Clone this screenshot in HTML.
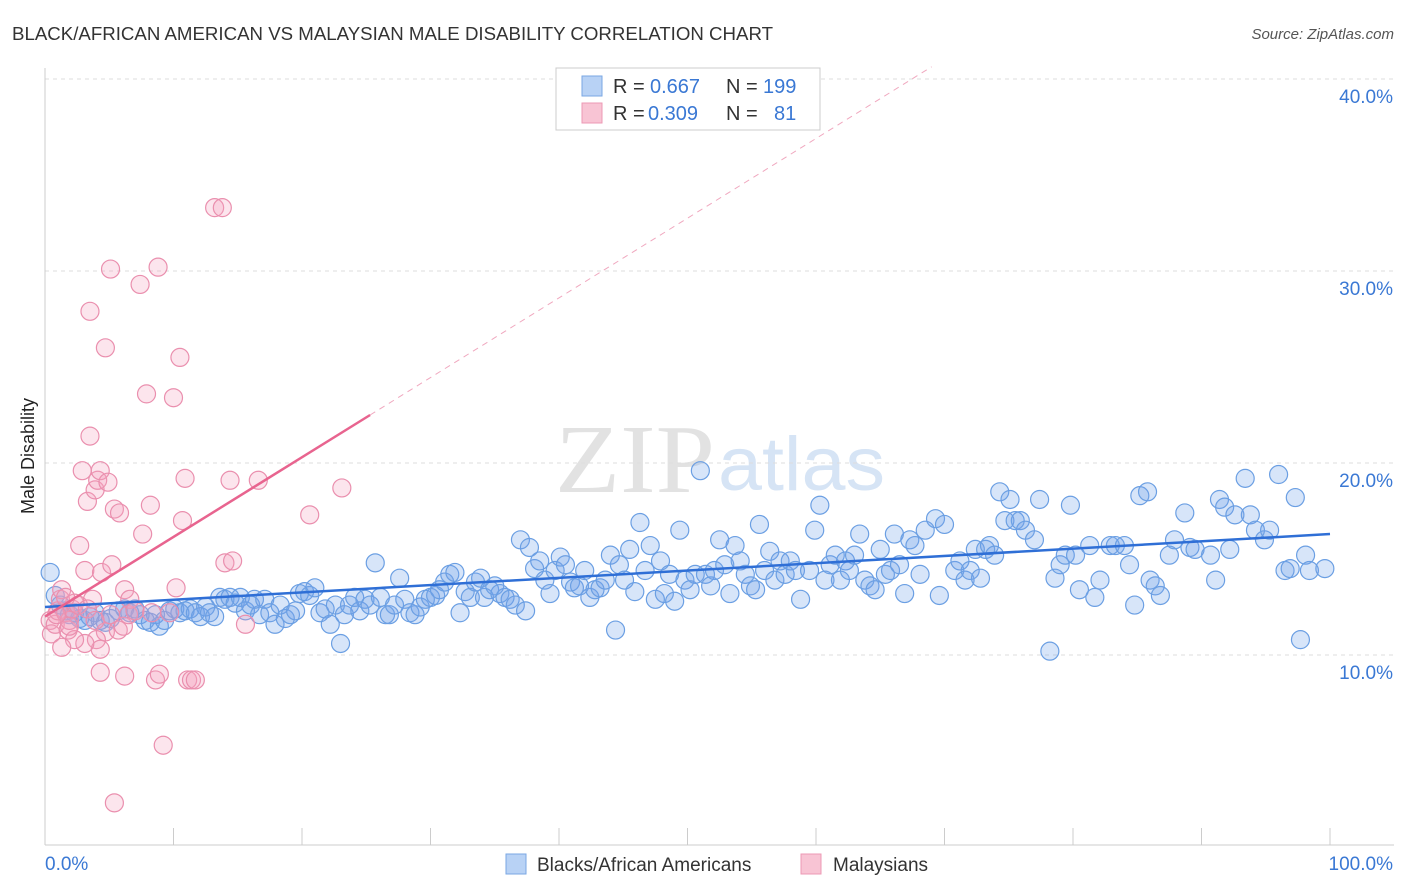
<!DOCTYPE html>
<html><head><meta charset="utf-8"><style>
body{margin:0;background:#fff;font-family:"Liberation Sans",sans-serif}
#wrap{position:relative;width:1406px;height:892px}
svg{position:absolute;left:0;top:0}
</style></head><body>
<div id="wrap">
<svg id="svg" width="1406" height="892">
<text x="12" y="40" font-size="18" fill="#333" textLength="761" lengthAdjust="spacingAndGlyphs">BLACK/AFRICAN AMERICAN VS MALAYSIAN MALE DISABILITY CORRELATION CHART</text>
<text x="1394" y="39" font-size="15" fill="#555" text-anchor="end" font-style="italic">Source: ZipAtlas.com</text>
<text x="34" y="456" font-size="18" fill="#222" text-anchor="middle" transform="rotate(-90 34 456)">Male Disability</text>
<text x="555" y="492" font-size="98" fill="#e2e2e2" font-family="Liberation Serif" textLength="160" lengthAdjust="spacingAndGlyphs">ZIP</text>
<text x="718" y="490" font-size="76" fill="#d6e4f5" textLength="167" lengthAdjust="spacingAndGlyphs">atlas</text>
<g id="grid"></g><g id="marks"></g>
<g>
<rect x="556" y="68" width="264" height="62" fill="#fff" stroke="#ccc"/>
<rect x="582" y="76" width="20" height="20" fill="#b8d2f5" stroke="#7aa7e3"/>
<rect x="582" y="103" width="20" height="20" fill="#f8c4d4" stroke="#ec99b4"/>
<g font-size="20">
<text x="613" y="93" fill="#333">R =</text><text x="650" y="93" fill="#3a78d4">0.667</text>
<text x="726" y="93" fill="#333">N =</text><text x="763" y="93" fill="#3a78d4">199</text></g>
<g font-size="20">
<text x="613" y="120" fill="#333">R =</text><text x="648" y="120" fill="#3a78d4">0.309</text>
<text x="726" y="120" fill="#333">N =</text><text x="774" y="120" fill="#3a78d4">81</text></g>
</g>
<g>
<rect x="506" y="854" width="20" height="20" fill="#b8d2f5" stroke="#7aa7e3"/>
<text x="537" y="871" font-size="19" fill="#333">Blacks/African Americans</text>
<rect x="801" y="854" width="20" height="20" fill="#f8c4d4" stroke="#ec99b4"/>
<text x="833" y="871" font-size="19" fill="#333">Malaysians</text>
</g>
</svg></div>
<script>
const yTicks=[10,20,30,40];
const xTickLabels=["0.0%","100.0%"];
const blueX=[0.4,0.8,1.2,1.6,1.9,2.3,2.7,3.1,3.5,3.9,4.3,4.7,5.1,5.7,6.2,6.6,7.0,7.4,7.8,8.2,8.6,8.9,9.3,9.7,10.1,10.5,10.9,11.3,11.7,12.1,12.5,12.8,13.2,13.6,14.0,14.4,14.8,15.2,15.6,16.0,16.3,16.7,17.1,17.5,17.9,18.3,18.7,19.1,19.5,19.8,20.2,20.6,21.0,21.4,21.8,22.2,22.6,23.0,23.3,23.7,24.1,24.5,24.9,25.3,25.7,26.1,26.5,26.8,27.2,27.6,28.0,28.4,28.8,29.2,29.6,30.0,30.4,30.7,31.1,31.5,31.9,32.3,32.7,33.1,33.5,33.9,34.2,34.6,35.0,35.4,35.8,36.2,36.6,37.0,37.4,37.7,38.1,38.5,38.9,39.3,39.7,40.1,40.5,40.9,41.2,41.6,42.0,42.4,42.8,43.2,43.6,44.0,44.4,44.7,45.1,45.5,45.9,46.3,46.7,47.1,47.5,47.9,48.2,48.6,49.0,49.4,49.8,50.2,50.6,51.0,51.4,51.8,52.1,52.5,52.9,53.3,53.7,54.1,54.5,54.9,55.3,55.6,56.0,56.4,56.8,57.2,57.6,58.0,58.4,58.8,59.5,59.9,60.3,60.7,61.1,61.5,61.9,62.3,62.6,63.0,63.4,63.8,64.2,64.6,65.0,65.4,65.8,66.1,66.5,66.9,67.3,67.7,68.1,68.5,69.3,69.6,70.0,70.8,71.2,71.6,72.0,72.4,72.8,73.2,73.5,73.9,74.3,74.7,75.1,75.5,75.9,76.3,77.0,77.4,78.2,78.6,79.0,79.4,79.8,80.2,80.5,81.3,81.7,82.1,82.9,83.3,84.0,84.4,84.8,85.2,85.8,86.0,86.4,86.8,87.5,87.9,88.7,89.1,89.5,90.7,91.1,91.4,91.8,92.2,92.6,93.4,93.8,94.2,94.9,95.3,96.0,96.5,96.9,97.3,97.7,98.1,98.4,99.6];
const blueY=[14.3,13.1,12.6,12.3,12.1,12.2,11.9,11.8,12.0,12.2,11.8,11.7,11.9,12.3,12.4,12.2,12.4,12.1,11.8,11.7,12.1,11.5,11.8,12.3,12.4,12.2,12.3,12.4,12.2,12.0,12.5,12.2,12.0,13.0,12.9,13.0,12.7,13.0,12.3,12.6,12.9,12.1,12.9,12.2,11.6,12.6,11.9,12.1,12.3,13.2,13.3,13.1,13.5,12.2,12.4,11.6,12.6,10.6,12.1,12.6,13.0,12.3,12.9,12.6,14.8,13.0,12.1,12.1,12.6,14.0,12.9,12.2,12.1,12.5,12.9,13.0,13.1,13.4,13.8,14.2,14.3,12.2,13.3,13.0,13.8,14.0,13.0,13.4,13.6,13.2,13.0,12.9,12.6,16.0,12.3,15.6,14.5,14.9,13.9,13.2,14.4,15.1,14.7,13.8,13.5,13.6,14.4,13.0,13.4,13.5,13.9,15.2,11.3,14.7,13.9,15.5,13.3,16.9,14.4,15.7,12.9,14.9,13.2,14.2,12.8,16.5,13.9,13.4,14.2,19.6,14.2,13.6,14.4,16.0,14.7,13.2,15.7,14.9,14.2,13.6,13.4,16.8,14.4,15.4,13.9,14.9,14.2,14.9,14.4,12.9,14.4,16.5,17.8,13.9,14.7,15.2,13.9,14.9,14.4,15.2,16.3,13.9,13.6,13.4,15.5,14.2,14.4,16.3,14.7,13.2,16.0,15.7,14.2,16.5,17.1,13.1,16.8,14.4,14.9,13.9,14.4,15.5,14.0,15.5,15.7,15.2,18.5,17.0,18.1,17.0,17.0,16.5,16.0,18.1,10.2,14.0,14.7,15.2,17.8,15.2,13.4,15.7,13.0,13.9,15.7,15.7,15.7,14.7,12.6,18.3,18.5,13.9,13.6,13.1,15.2,16.0,17.4,15.6,15.5,15.2,13.9,18.1,17.7,15.5,17.3,19.2,17.3,16.5,16.0,16.5,19.4,14.4,14.5,18.2,10.8,15.2,14.4,14.5];
const pinkX=[0.4,0.5,0.8,1.0,1.2,1.3,1.6,1.8,1.9,2.1,2.3,2.6,2.7,2.9,3.1,3.3,3.5,3.7,3.9,4.1,4.3,4.4,4.7,4.9,5.1,5.2,5.4,5.7,5.8,6.1,6.2,6.5,6.6,7.0,7.4,7.6,7.9,8.2,8.3,8.6,8.8,8.9,9.2,9.7,10.0,10.2,10.5,10.7,10.9,11.1,11.4,11.7,13.2,13.8,14.0,14.4,14.6,15.6,16.6,20.6,23.1,3.5,4.7,5.4,4.0,4.3,3.1,2.3,1.3,4.3,6.2,3.3,5.1,3.9,1.9,0.9,1.6];
const pinkY=[11.8,11.1,11.6,12.3,12.9,13.4,12.2,11.3,11.8,12.4,12.7,12.6,15.7,19.6,14.4,18.0,21.4,12.9,18.6,19.1,19.6,14.3,11.2,19.0,30.1,14.7,17.6,11.3,17.4,11.5,13.4,12.1,12.9,12.3,29.3,16.3,23.6,17.8,12.2,8.7,30.2,9.0,5.3,12.2,23.4,13.5,25.5,17.0,19.2,8.7,8.7,8.7,33.3,33.3,14.8,19.1,14.9,11.6,19.1,17.3,18.7,27.9,26.0,2.3,10.8,10.3,10.6,10.8,10.4,9.1,8.9,12.4,12.1,11.8,11.5,12.1,13.0];
const blueTrend=[12.5,16.3];
const pinkTrend=[12.0,22.5,25.3,69];
const sx=v=>45+v*12.85;
const sy=v=>655-(v-10)*19.2;
const NS="http://www.w3.org/2000/svg";
function mk(tag,attrs,parent){const e=document.createElementNS(NS,tag);for(const k in attrs)e.setAttribute(k,attrs[k]);parent.appendChild(e);return e;}
const grid=document.getElementById('grid'),marks=document.getElementById('marks');
yTicks.forEach(t=>{
 const l=mk('line',{x1:45,x2:1394,y1:sy(t),y2:sy(t),stroke:'#ddd','stroke-dasharray':'4,4'},grid);
 
 
 const tx=mk('text',{x:1393,y:sy(t)+24,'font-size':19,fill:'#3a78d4','text-anchor':'end'},grid);
 tx.textContent=t.toFixed(1)+'%';
 
 
});
const ax=mk('line',{x1:45,x2:45,y1:68,y2:845,stroke:'#ccc'},grid);


const bx=mk('line',{x1:45,x2:1394,y1:845,y2:845,stroke:'#ccc'},grid);


for(let k=0;k<=10;k++){
 const t=mk('line',{x1:sx(k*10),x2:sx(k*10),y1:828,y2:845,stroke:'#ccc'},grid);
 
 
}
[[0,'start'],[100,'end']].forEach((p,i)=>{
 const tx=mk('text',{x:i?1393:45,y:870,'font-size':19,fill:'#3a78d4','text-anchor':p[1]},grid);
 tx.textContent=xTickLabels[i];
 
 
});
blueX.forEach((x,i)=>{
 const c=mk('circle',{cx:sx(x),cy:sy(blueY[i]),r:9,fill:'rgba(110,160,235,0.28)',stroke:'#6b9fe3','stroke-width':1.2},marks);
 
 
});
pinkX.forEach((x,i)=>{
 const c=mk('circle',{cx:sx(x),cy:sy(pinkY[i]),r:9,fill:'rgba(245,160,190,0.28)',stroke:'#ea8fae','stroke-width':1.2},marks);
 
 
});
const bl=mk('line',{x1:sx(0),y1:sy(blueTrend[0]),x2:sx(100),y2:sy(blueTrend[1]),stroke:'#2f6fd6','stroke-width':2.5},marks);


const slope=(pinkTrend[1]-pinkTrend[0])/pinkTrend[2];
const pl=mk('line',{x1:sx(0),y1:sy(pinkTrend[0]),x2:sx(pinkTrend[2]),y2:sy(pinkTrend[1]),stroke:'#e8648f','stroke-width':2.5},marks);


const pd=mk('line',{x1:sx(pinkTrend[2]),y1:sy(pinkTrend[1]),x2:sx(pinkTrend[3]),y2:sy(pinkTrend[0]+slope*pinkTrend[3]),stroke:'#f0a8bf','stroke-width':1,'stroke-dasharray':'6,5'},marks);


</script>
</body></html>
